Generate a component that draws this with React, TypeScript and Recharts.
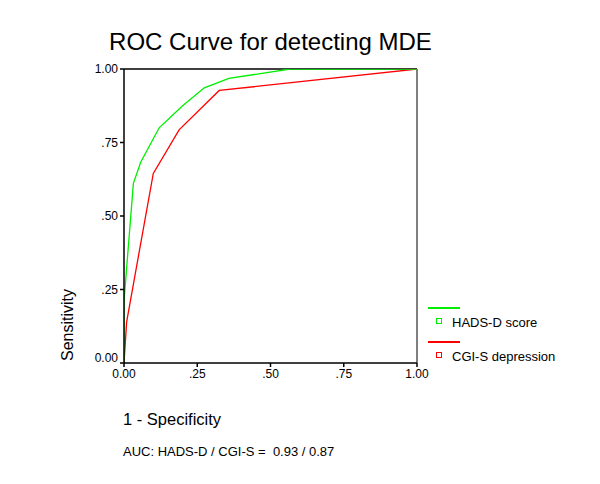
import { LineChart, Line, XAxis, YAxis, ReferenceLine } from 'recharts'

// ROC points (false positive rate / sensitivity)
const hadsFpr = [0, 0, 0.032, 0.057, 0.12, 0.2, 0.274, 0.358, 0.567, 1]
const hadsTpr = [0, 0.21, 0.611, 0.683, 0.8, 0.875, 0.936, 0.968, 1, 1]
const cgiFpr = [0, 0.009, 0.1, 0.188, 0.325, 1]
const cgiTpr = [0, 0.14, 0.645, 0.793, 0.927, 1]

const axisTicks = [0, 0.25, 0.5, 0.75, 1]
const tickLabels = ['0.00', '.25', '.50', '.75', '1.00']

const seriesNames = ['HADS-D score', 'CGI-S depression']
const seriesColors = ['#00ee00', '#ff0000']

const font = '"Liberation Sans", Arial, sans-serif'

const hadsData = hadsFpr.map((x, i) => ({ x, y: hadsTpr[i] }))
const cgiData = cgiFpr.map((x, i) => ({ x, y: cgiTpr[i] }))

const fmt = (v: number) => tickLabels[axisTicks.indexOf(v)] ?? String(v)

const YTick = ({ x, y, payload }: { x: number; y: number; payload: { value: number } }) => (
  <text
    x={x}
    y={payload.value === 0 ? y - 5 : y}
    dy={4}
    textAnchor="end"
    fontSize={12}
    fontFamily={font}
    fill="#000"
  >
    {fmt(payload.value)}
  </text>
)

export default function App() {
  return (
    <div style={{ position: 'absolute', left: 0, top: 0, width: 600, height: 484, background: '#fff', fontFamily: font }}>
      <LineChart
        width={600}
        height={484}
        margin={{ top: 69, right: 183, bottom: 91, left: 84 }}
      >
        <XAxis
          type="number"
          dataKey="x"
          domain={[0, 1]}
          ticks={axisTicks}
          tickFormatter={fmt}
          allowDataOverflow
          height={30}
          stroke="#000"
          strokeWidth={1.5}
          tickSize={4}
          tick={{ fontSize: 12, fontFamily: font, fill: '#000' }}
        />
        <YAxis
          type="number"
          dataKey="y"
          domain={[0, 1]}
          ticks={axisTicks}
          allowDataOverflow
          width={40}
          stroke="#000"
          strokeWidth={1.5}
          tickSize={4}
          tick={YTick}
        />
        <ReferenceLine y={1} stroke="#000" strokeWidth={1.5} />
        <ReferenceLine x={1} stroke="#555" strokeWidth={1.5} />
        <Line
          data={cgiData}
          dataKey="y"
          type="linear"
          stroke={seriesColors[1]}
          strokeWidth={1.3}
          dot={false}
          isAnimationActive={false}
        />
        <Line
          data={hadsData}
          dataKey="y"
          type="linear"
          stroke={seriesColors[0]}
          strokeWidth={1.3}
          dot={false}
          isAnimationActive={false}
        />
      </LineChart>

      <div style={{ position: 'absolute', left: 0, width: 541, top: 28, textAlign: 'center', fontSize: 24, lineHeight: '28px' }}>
        ROC Curve for detecting MDE
      </div>
      <div
        style={{
          position: 'absolute',
          left: 68,
          top: 325,
          transform: 'translate(-50%, -50%) rotate(-90deg)',
          fontSize: 16,
          whiteSpace: 'nowrap',
        }}
      >
        Sensitivity
      </div>
      <div style={{ position: 'absolute', left: 123, top: 409, fontSize: 16.5, lineHeight: '20px', whiteSpace: 'nowrap' }}>
        1 - Specificity
      </div>
      <div style={{ position: 'absolute', left: 123, top: 444, fontSize: 13, lineHeight: '15px', whiteSpace: 'pre' }}>
        {'AUC: HADS-D / CGI-S =  0.93 / 0.87'}
      </div>

      {seriesNames.map((name, i) => (
        <div key={name} style={{ position: 'absolute', left: 428, top: 307 + i * 34 }}>
          <div style={{ width: 32, height: 1.5, background: seriesColors[i] }} />
          <div
            style={{
              position: 'absolute',
              left: 8,
              top: 11,
              width: 4,
              height: 4,
              border: `1.3px solid ${seriesColors[i]}`,
            }}
          />
          <div style={{ position: 'absolute', left: 24, top: 8, fontSize: 13, lineHeight: '15px', whiteSpace: 'nowrap' }}>
            {name}
          </div>
        </div>
      ))}
    </div>
  )
}
